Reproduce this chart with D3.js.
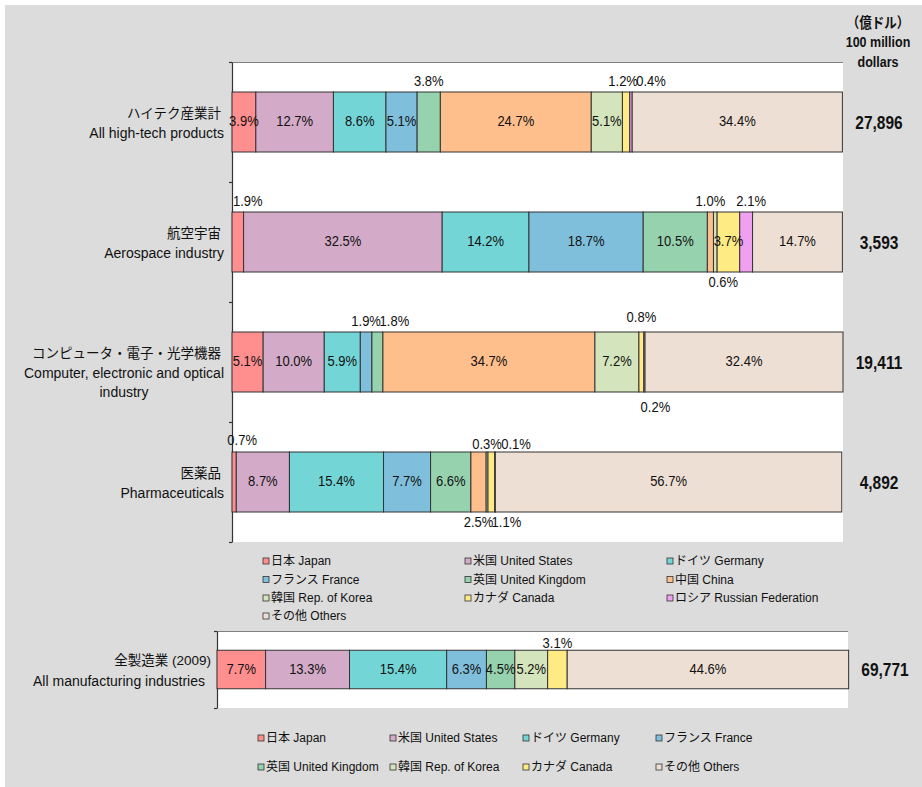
<!DOCTYPE html>
<html>
<head>
<meta charset="utf-8">
<script src="https://cdn.jsdelivr.net/npm/d3@7"></script>
<style>
  html, body { margin: 0; padding: 0; background: #ffffff; }
  svg { display: block; }
  text { font-family: "Liberation Sans", "Noto Sans CJK JP", sans-serif; fill: #111; }
</style>
</head>
<body>
<svg id="chart" width="922" height="787"></svg>
<script>
// ---------------- DATA ----------------
const categoriesJa = ["ハイテク産業計", "航空宇宙", "コンピュータ・電子・光学機器", "医薬品"];
const categoriesEn = [["All high-tech products"], ["Aerospace industry"], ["Computer, electronic and optical", "industry"], ["Pharmaceuticals"]];
const countries = ["Japan", "US", "Germany", "France", "UK", "China", "Korea", "Canada", "Russia", "Others"];
const countryLabels = ["日本 Japan", "米国 United States", "ドイツ Germany", "フランス France", "英国 United Kingdom",
  "中国 China", "韓国 Rep. of Korea", "カナダ Canada", "ロシア Russian Federation", "その他 Others"];
const highTech   = [3.9, 12.7, 8.6, 5.1, 3.8, 24.7, 5.1, 1.2, 0.4, 34.4];
const aerospace  = [1.9, 32.5, 14.2, 18.7, 10.5, 1.0, 0.6, 3.7, 2.1, 14.7];
const computer   = [5.1, 10.0, 5.9, 1.9, 1.8, 34.7, 7.2, 0.8, 0.2, 32.4];
const pharma     = [0.7, 8.7, 15.4, 7.7, 6.6, 2.5, 0.3, 1.1, 0.1, 56.7];
const totals     = ["27,896", "3,593", "19,411", "4,892"];

const mfgCategoryJa = "全製造業 (2009)";
const mfgCategoryEn = "All manufacturing industries";
const mfgCountries = ["Japan", "US", "Germany", "France", "UK", "Korea", "Canada", "Others"];
const mfgValues    = [7.7, 13.3, 15.4, 6.3, 4.5, 5.2, 3.1, 44.6];
const mfgTotal     = "69,771";
const unitLines    = ["（億ドル）", "100 million", "dollars"];

// ---------------- STYLE / LAYOUT ----------------
const colors = {
  Japan: "#FF8F8F", US: "#D3ABC8", Germany: "#73D5D6", France: "#80BFDC", UK: "#97D2AF",
  China: "#FFBF8D", Korea: "#D4E4BC", Canada: "#FFEB84", Russia: "#F0A0F0", Others: "#EEDFD4"
};
// placement of labels that do not fit inside their segment
const labelPlacement = {
  "0|UK": {pos: "above"}, "0|Canada": {pos: "above", dx: -3}, "0|Russia": {pos: "above", dx: 20},
  "1|Japan": {pos: "above", dx: 10}, "1|China": {pos: "above"}, "1|Korea": {pos: "below", dx: 8},
  "1|Russia": {pos: "above", dx: 5},
  "2|France": {pos: "above"}, "2|UK": {pos: "above", dx: 17}, "2|Canada": {pos: "above", dy: -4},
  "2|Russia": {pos: "below", dx: 11, dy: 5},
  "3|Japan": {pos: "above", dx: 8, dy: -1}, "3|Korea": {pos: "above", dy: 3}, "3|Russia": {pos: "above", dx: 21, dy: 3},
  "3|China": {pos: "below"}, "3|Canada": {pos: "below", dx: 15},
  "m|Canada": {pos: "above", dy: 3}
};

const svg = d3.select("#chart");
svg.append("rect").attr("x", 5).attr("y", 5).attr("width", 917).attr("height", 782).attr("fill", "#DCDCDC");

function tallText(g, x, y, str, size, weight) {
  return g.append("text").attr("transform", `translate(${x},${y}) scale(1,1.15)`)
    .attr("text-anchor", "middle").attr("dominant-baseline", "central")
    .style("font-size", size + "px").style("font-weight", weight || "normal").text(str);
}

function drawPanel(opts) {
  const {rows, rowKeys, cats, x0, x1, y0, y1, keyPrefix, totalsArr, totalX} = opts;
  const g = svg.append("g");
  g.append("rect").attr("x", x0).attr("y", y0).attr("width", x1 - x0).attr("height", y1 - y0).attr("fill", "#fff");
  g.append("line").attr("x1", x0).attr("x2", x1).attr("y1", y0 + 0.5).attr("y2", y0 + 0.5)
    .attr("stroke", "#7f7f7f").attr("stroke-width", 1.2);

  const x = d3.scaleLinear().domain([0, 100]).range([x0, x1]);
  const y = d3.scaleBand().domain(d3.range(rows.length)).range([y0, y1]).paddingInner(0.5).paddingOuter(0.25);
  const yEdge = d3.scaleLinear().domain([0, rows.length]).range([y0, y1]);

  const axis = d3.axisLeft(yEdge).tickValues(d3.range(rows.length + 1))
    .tickSize(3).tickSizeOuter(0).tickFormat("");
  const ax = g.append("g").attr("transform", `translate(${x0},0)`).call(axis);
  ax.selectAll("path, line").attr("stroke", "#333").attr("stroke-width", 1.2);

  rows.forEach((vals, ri) => {
    const datum = {};
    rowKeys.forEach((k, i) => datum[k] = vals[i]);
    const series = d3.stack().keys(rowKeys)([datum]);
    const by = y(ri), bh = y.bandwidth();
    series.forEach(s => {
      const k = s.key, seg = s[0];
      const xa = x(seg[0]), xb = x(seg[1]);
      g.append("rect").attr("x", xa).attr("y", by).attr("width", Math.max(0, xb - xa)).attr("height", bh)
        .attr("fill", colors[k]).attr("stroke", "#333").attr("stroke-width", 1);
    });
    series.forEach(s => {
      const k = s.key, seg = s[0];
      const xa = x(seg[0]), xb = x(seg[1]);
      const v = datum[k];
      const pl = labelPlacement[keyPrefix(ri) + "|" + k] || {pos: "in"};
      const lx = (xa + xb) / 2 + (pl.dx || 0);
      let ly;
      if (pl.pos === "above") ly = by - 11 + (pl.dy || 0);
      else if (pl.pos === "below") ly = by + bh + 10 + (pl.dy || 0);
      else ly = by + bh / 2 - 1;
      tallText(g, lx, ly, v.toFixed(1) + "%", 13);
    });
    tallText(g, totalX, by + bh / 2 + 1, totalsArr[ri], 15.5, "bold");
    // category labels
    const c = cats[ri];
    const jaY = by + bh / 2 + c.jaOff;
    g.append("text").attr("x", c.jaX).attr("y", jaY).attr("text-anchor", "end").attr("dominant-baseline", "central")
      .style("font-size", "13.5px").text(c.ja);
    c.en.forEach((line, li) => {
      const t = g.append("text").attr("y", jaY + 20 + li * 19).attr("dominant-baseline", "central")
        .style("font-size", "14px").text(line);
      if (li === 0) t.attr("x", c.enX).attr("text-anchor", "end");
      else t.attr("x", c.enX - 100).attr("text-anchor", "middle");
    });
  });
}

drawPanel({
  rows: [highTech, aerospace, computer, pharma],
  rowKeys: countries,
  cats: categoriesJa.map((ja, i) => ({ja, en: categoriesEn[i], jaX: 221, enX: 224, jaOff: -9})),
  x0: 232, x1: 843, y0: 62, y1: 542,
  keyPrefix: ri => String(ri),
  totalsArr: totals, totalX: 879
});

drawPanel({
  rows: [mfgValues],
  rowKeys: mfgCountries,
  cats: [{ja: mfgCategoryJa, en: [mfgCategoryEn], jaX: 211, enX: 205, jaOff: -9}],
  x0: 217, x1: 848, y0: 631, y1: 708,
  keyPrefix: () => "m",
  totalsArr: [mfgTotal], totalX: 885
});

// unit header
unitLines.forEach((t, i) => {
  tallText(svg, 878, 23 + i * 19.5, t, 12.5, "bold");
});

// legends
function legend(items, colX, rowY, perRow) {
  items.forEach((k, i) => {
    const cx = colX[i % perRow], cy = rowY[Math.floor(i / perRow)];
    svg.append("rect").attr("x", cx).attr("y", cy - 3).attr("width", 6).attr("height", 6)
      .attr("fill", colors[k]).attr("stroke", "#333").attr("stroke-width", 0.8);
    svg.append("text").attr("x", cx + 8).attr("y", cy).attr("dominant-baseline", "central")
      .style("font-size", "12px").text(countryLabels[countries.indexOf(k)]);
  });
}
legend(countries, [263, 465, 667], [561, 579.5, 598, 616], 3);
legend(mfgCountries, [258, 390, 523, 656], [738, 767], 4);
</script>
</body>
</html>
